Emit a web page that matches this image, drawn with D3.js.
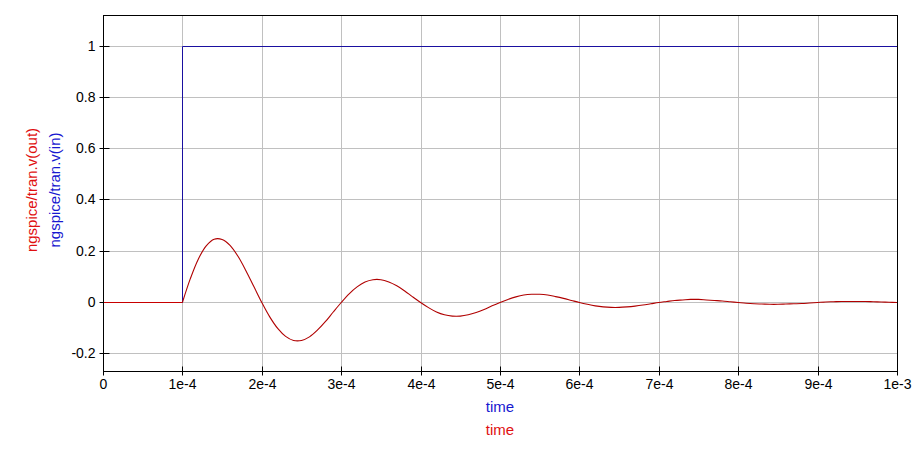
<!DOCTYPE html>
<html><head><meta charset="utf-8">
<script src="https://cdn.jsdelivr.net/npm/d3@7"></script>
<style>body{margin:0;background:#fff;} svg{display:block;font-family:"Liberation Sans",Arial,Helvetica,sans-serif;}</style>
</head><body>
<svg id="chart" width="919" height="473"></svg>
<script>
// time (s)
const timeValues = [0, 0.0001,
 0.00011,0.00012,0.00013,0.00014,0.00015,0.00016,0.00017,0.00018,0.00019,0.0002,
 0.00021,0.00022,0.00023,0.00024,0.00025,0.00026,0.00027,0.00028,0.00029,0.0003,
 0.00031,0.00032,0.00033,0.00034,0.00035,0.00036,0.00037,0.00038,0.00039,0.0004,
 0.00041,0.00042,0.00043,0.00044,0.00045,0.00046,0.00047,0.00048,0.00049,0.0005,
 0.00051,0.00052,0.00053,0.00054,0.00055,0.00056,0.00057,0.00058,0.00059,0.0006,
 0.00061,0.00062,0.00063,0.00064,0.00065,0.00066,0.00067,0.00068,0.00069,0.0007,
 0.00071,0.00072,0.00073,0.00074,0.00075,0.00076,0.00077,0.00078,0.00079,0.0008,
 0.00081,0.00082,0.00083,0.00084,0.00085,0.00086,0.00087,0.00088,0.00089,0.0009,
 0.00091,0.00092,0.00093,0.00094,0.00095,0.00096,0.00097,0.00098,0.00099,0.001];
// ngspice/tran.v(out)
const outValues = [0, 0,
 0.093,0.169,0.221,0.247,0.246,0.223,0.180,0.124,0.062,0,
 -0.056,-0.101,-0.132,-0.148,-0.148,-0.134,-0.108,-0.075,-0.037,0,
 0.034,0.061,0.080,0.089,0.089,0.080,0.065,0.045,0.022,0,
 -0.020,-0.037,-0.048,-0.053,-0.053,-0.048,-0.039,-0.027,-0.013,0,
 0.012,0.022,0.029,0.032,0.032,0.029,0.023,0.016,0.008,0,
 -0.007,-0.013,-0.017,-0.019,-0.019,-0.017,-0.014,-0.010,-0.005,0,
 0.004,0.008,0.010,0.012,0.012,0.010,0.008,0.006,0.003,0,
 -0.003,-0.005,-0.006,-0.007,-0.007,-0.006,-0.005,-0.004,-0.002,0,
 0.002,0.003,0.004,0.004,0.004,0.004,0.003,0.002,0.001,0];
// ngspice/tran.v(in)
const inTime = [0, 0.0001, 0.0001, 0.001];
const inValues = [0, 0, 1, 1];

const xTicks = [0,0.0001,0.0002,0.0003,0.0004,0.0005,0.0006,0.0007,0.0008,0.0009,0.001];
const xTickLabels = ["0","1e-4","2e-4","3e-4","4e-4","5e-4","6e-4","7e-4","8e-4","9e-4","1e-3"];
const yTicks = [-0.2,0,0.2,0.4,0.6,0.8,1];
const yTickLabels = ["-0.2","0","0.2","0.4","0.6","0.8","1"];

const svg = d3.select("#chart");
const L=103, R=897, T=15, B=371;
const x = d3.scaleLinear().domain([0,0.001]).range([L,R]);
const y = d3.scaleLinear().domain([0,1]).range([302,45.5]);

// grid
const g = svg.append("g");
g.selectAll("line.gx").data(xTicks).join("line")
 .attr("x1",d=>Math.round(x(d))+0.5).attr("x2",d=>Math.round(x(d))+0.5)
 .attr("y1",T).attr("y2",B).attr("stroke","#c0c0c0").attr("stroke-width",1);
g.selectAll("line.gy").data(yTicks).join("line")
 .attr("y1",d=>Math.round(y(d))+0.5).attr("y2",d=>Math.round(y(d))+0.5)
 .attr("x1",L).attr("x2",R).attr("stroke","#c0c0c0").attr("stroke-width",1);

// axes
const xAxis = d3.axisBottom(x).tickValues(xTicks).tickFormat((d,i)=>xTickLabels[i]).tickSize(4).tickSizeOuter(0);
const xa = svg.append("g").attr("transform",`translate(0,${B+0.5})`).call(xAxis);
xa.select(".domain").remove();
xa.selectAll(".tick").attr("transform",d=>`translate(${Math.round(x(d))+0.5},0)`);
xa.selectAll(".tick line").attr("y1",-5).attr("y2",4).attr("stroke","#000");
xa.selectAll(".tick text").attr("y",8).attr("dy","0.71em").attr("font-size",14).attr("fill","#000")
 .attr("font-family","Liberation Sans, Arial, sans-serif");

const yAxis = d3.axisLeft(y).tickValues(yTicks).tickFormat((d,i)=>yTickLabels[i]).tickSize(4).tickSizeOuter(0);
const ya = svg.append("g").attr("transform",`translate(${L+0.5},0)`).call(yAxis);
ya.select(".domain").remove();
ya.selectAll(".tick").attr("transform",d=>`translate(0,${Math.round(y(d))+0.5})`);
ya.selectAll(".tick line").attr("x1",-4).attr("x2",6).attr("stroke","#000");
ya.selectAll(".tick text").attr("x",-8).attr("font-size",14).attr("fill","#000")
 .attr("font-family","Liberation Sans, Arial, sans-serif");

// lines
svg.append("clipPath").attr("id","clip").append("rect").attr("x",L).attr("y",T).attr("width",R-L+1).attr("height",B-T);
const lineIn = d3.line().x((d,i)=>Math.round(x(inTime[i]))+0.5).y(d=>Math.round(y(d))+0.5);
svg.append("path").datum(inValues).attr("d",lineIn).attr("fill","none").attr("stroke","#1a10a0").attr("stroke-width",1).attr("clip-path","url(#clip)");

// red: flat part before the step (straight), oscillation after (smoothed)
const pts = outValues.map((v,i)=>[timeValues[i],v]);
const flat = pts.slice(0,2), osc = pts.slice(1);
const lineLin = d3.line().x(d=>x(d[0])).y(d=>Math.round(y(d[1]))+0.5);
const lineCurve = d3.line().x(d=>x(d[0])).y(d=>y(d[1])+0.5).curve(d3.curveCatmullRom);
svg.append("path").datum(flat).attr("d",lineLin).attr("fill","none").attr("stroke","#c80000").attr("stroke-width",1).attr("clip-path","url(#clip)");
svg.append("path").datum(osc).attr("d",lineCurve).attr("fill","none").attr("stroke","#b00000").attr("stroke-width",1.1).attr("clip-path","url(#clip)");

// frame
svg.append("rect").attr("x",L+0.5).attr("y",T+0.5).attr("width",R-L).attr("height",B-T)
 .attr("fill","none").attr("stroke","#000").attr("stroke-width",1);

// axis titles
svg.append("text").attr("x",(L+R)/2).attr("y",412).attr("text-anchor","middle").attr("font-size",15).attr("fill","#1818d0").text("time");
svg.append("text").attr("x",(L+R)/2).attr("y",435).attr("text-anchor","middle").attr("font-size",15).attr("fill","#e01010").text("time");
svg.append("text").attr("transform",`translate(37,190) rotate(-90)`).attr("text-anchor","middle").attr("font-size",15).attr("fill","#e01010").text("ngspice/tran.v(out)");
svg.append("text").attr("transform",`translate(60,190) rotate(-90)`).attr("text-anchor","middle").attr("font-size",15).attr("fill","#1818d0").text("ngspice/tran.v(in)");
</script>
</body></html>
